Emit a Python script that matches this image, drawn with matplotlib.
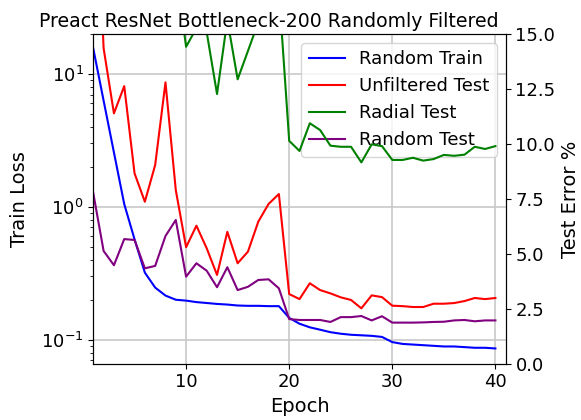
import matplotlib
matplotlib.use('Agg')
import matplotlib.pyplot as plt
import numpy as np

epochs = list(range(1, 41))

train_loss = [15.5, 6.3, 2.57, 1.05, 0.57, 0.32, 0.247, 0.215, 0.2, 0.197,
              0.192, 0.189, 0.186, 0.184, 0.181, 0.180, 0.180, 0.179, 0.179, 0.146,
              0.132, 0.124, 0.119, 0.114, 0.111, 0.109, 0.108, 0.107, 0.105, 0.096,
              0.093, 0.092, 0.091, 0.090, 0.089, 0.089, 0.088, 0.087, 0.087, 0.086]

unfiltered_test = [25.0, 14.35, 11.39, 12.63, 8.66, 7.37, 9.04, 12.8, 7.9, 5.3,
                   6.28, 5.25, 4.04, 6.0, 4.57, 5.1, 6.46, 7.27, 7.72, 3.17,
                   2.94, 3.66, 3.35, 3.2, 3.02, 2.9, 2.52, 3.11, 3.03, 2.64,
                   2.62, 2.58, 2.58, 2.73, 2.73, 2.76, 2.85, 2.99, 2.94, 2.99]

radial_test = [85.0, 70.0, 60.0, 48.0, 40.0, 33.0, 27.0, 22.0, 17.9, 14.42,
               15.27, 15.08, 12.27, 15.65, 12.94, 14.23, 15.53, 17.0, 17.0, 10.14,
               9.68, 10.94, 10.63, 9.92, 9.87, 9.87, 9.16, 9.98, 9.9, 9.27,
               9.27, 9.37, 9.24, 9.31, 9.5, 9.46, 9.51, 9.87, 9.77, 9.9]

random_test = [7.75, 5.13, 4.48, 5.67, 5.63, 4.34, 4.45, 5.81, 6.54, 3.96,
               4.57, 4.23, 3.48, 4.39, 3.35, 3.5, 3.81, 3.84, 3.43, 2.03,
               1.99, 1.99, 1.99, 1.9, 2.12, 2.12, 2.17, 1.97, 2.16, 1.87,
               1.87, 1.87, 1.88, 1.9, 1.91, 1.97, 1.99, 1.93, 1.97, 1.97]

fig = plt.figure(figsize=(5.81, 4.2), dpi=100)
ax = fig.add_subplot(111)
fig.subplots_adjust(left=0.1606, right=0.8704, bottom=0.134, top=0.919)

# train loss on log scale (left)
l1, = ax.plot(epochs, train_loss, color='b', lw=1.5, label='Random Train')
ax.set_yscale('log')
ax.set_ylim(0.066, 20)
ax.set_xlim(1, 41)
ax.set_xticks([10, 20, 30, 40])
ax.grid(True, color='#c8c8c8', lw=1.2)
ax.set_xlabel('Epoch', fontsize=14)
ax.set_ylabel('Train Loss', fontsize=14, labelpad=9)
ax.tick_params(labelsize=13)

# test errors (right)
ax2 = ax.twinx()
l2, = ax2.plot(epochs, unfiltered_test, color='r', lw=1.5, label='Unfiltered Test')
l3, = ax2.plot(epochs, radial_test, color='g', lw=1.5, label='Radial Test')
l4, = ax2.plot(epochs, random_test, color='purple', lw=1.5, label='Random Test')
ax2.set_ylim(0, 15)
ax2.set_yticks(np.arange(0, 15.1, 2.5))
ax2.set_ylabel('Test Error %', fontsize=14)
ax2.tick_params(labelsize=13)

ax.legend(handles=[l1, l2, l3, l4], loc='upper right', fontsize=13)

fig.text(268.7 / 581, 1 - 27 / 420, 'Preact ResNet Bottleneck-200 Randomly Filtered',
         ha='center', va='baseline', fontsize=13.6)

plt.savefig('out.png', dpi=100)
